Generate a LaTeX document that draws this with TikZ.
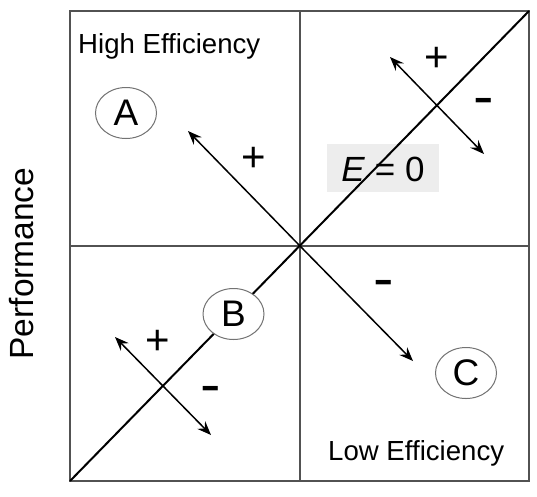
\documentclass[tikz,border=0pt]{standalone}
\usepackage{fontspec}
\setmainfont{Liberation Sans}
\usetikzlibrary{arrows.meta,shapes.geometric}
\begin{document}
\begin{tikzpicture}[x=1pt,y=-1pt,
  frame/.style={draw=black!68, line width=1.4pt},
  diag/.style={draw=black, line width=2pt},
  tip/.tip={Stealth[length=14pt,width=11pt,inset=5pt]},
  arr/.style={draw=black, line width=1.5pt, -tip},
  darr/.style={draw=black, line width=1.5pt, tip-tip},
  lbl/.style={font=\fontsize{27.6}{30}\selectfont, inner sep=0pt, anchor=base west},
  ptnode/.style={ellipse, draw=black!55, line width=1pt, fill=white, minimum width=61pt, minimum height=51pt, inner sep=0pt, font=\fontsize{37}{40}\selectfont},
  plussign/.style={font=\fontsize{42}{44}\selectfont, inner sep=0pt, anchor=base},
  minussign/.style={font=\fontsize{56}{60}\selectfont, inner sep=0pt, anchor=base, xscale=1.1}]
\useasboundingbox (0,0) rectangle (537,496);
\fill[white] (0,0) rectangle (537,496);
% frame
\coordinate (TL) at (70,11);
\coordinate (TR) at (529,11);
\coordinate (BL) at (70,481);
\coordinate (BR) at (529,481);
\coordinate (TM) at (300,11);
\coordinate (BM) at (300,481);
\coordinate (LM) at (70,246);
\coordinate (RM) at (529,246);
\coordinate (O) at (300,246);
\draw[frame] (TL) rectangle (BR);
\draw[frame] (TM) -- (BM);
\draw[frame] (LM) -- (RM);
% E = 0 label (under the diagonal)
\node[fill=black!7, minimum width=112pt, minimum height=48pt, inner sep=0pt] (ebox) at (383,167.5) {};
\node[font=\fontsize{35}{38}\selectfont, inner sep=0pt] (etext) at (383,169) {\textit{E} = 0};
% diagonal
\draw[diag] (BL) -- (TR);
% labels
\node[lbl] (high) at (78,53) {High Efficiency};
\node[lbl] (low) at (328,460) {Low Efficiency};
\node[font=\fontsize{33.5}{36}\selectfont, inner sep=0pt, anchor=base, rotate=90] (perf) at (33,263.5) {Performance};
% points
\node[ptnode] (A) at (126,113) {A};
\node[ptnode] (B) at (233.5,314) {B};
\node[ptnode] (C) at (466,373) {C};
% arrows from centre
\coordinate (aA) at (188,131);
\coordinate (aC) at (413,361);
\draw[arr] (O) -- (aA);
\draw[arr] (O) -- (aC);
% small crosses
\coordinate (u1) at (390,57);
\coordinate (d1) at (484,154);
\coordinate (u2) at (115,337);
\coordinate (d2) at (211,435);
\draw[darr] (u1) -- (d1);
\draw[darr] (u2) -- (d2);
% signs
\node[plussign] (p1) at (254,171.8) {+};
\node[plussign] (p2) at (437,71.5) {+};
\node[plussign] (p3) at (157.5,354) {+};
\node[minussign] (m1) at (484,115.5) {-};
\node[minussign] (m2) at (211,403.5) {-};
\node[minussign] (m3) at (384,297.5) {-};
\end{tikzpicture}
\end{document}
